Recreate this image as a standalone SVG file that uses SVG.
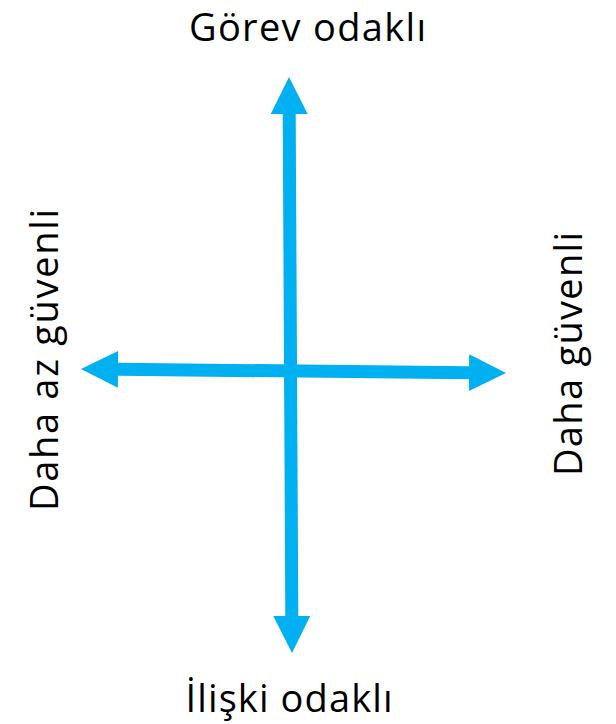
<svg xmlns="http://www.w3.org/2000/svg" width="616" height="724" viewBox="0 0 616 724">
  <style>
    .lbl { font-family: "Open Sans", "Liberation Sans", sans-serif; font-size: 38px; fill: #000000; text-anchor: middle; }
    .axis { stroke: #00B0F0; stroke-width: 13; fill: none; }
  </style>
  <defs>
    <marker id="head" markerUnits="userSpaceOnUse" markerWidth="38" markerHeight="40" viewBox="0 -20 38 40" refX="0" refY="0" orient="auto-start-reverse">
      <path d="M0,-18.5 L37,0 L0,18.5 Z" fill="#00B0F0"/>
    </marker>
  </defs>
  <rect width="616" height="724" fill="#ffffff"/>
  <g id="connectors">
    <line class="axis" x1="289.2" y1="114" x2="291.8" y2="616" marker-start="url(#head)" marker-end="url(#head)"/>
    <line class="axis" x1="118" y1="369.3" x2="469" y2="372.7" marker-start="url(#head)" marker-end="url(#head)"/>
  </g>
  <g id="node-top"><text class="lbl" x="307.5" y="41" textLength="237" lengthAdjust="spacing">Görev odaklı</text></g>
  <g id="node-bottom"><text class="lbl" x="289" y="712" textLength="207" lengthAdjust="spacing">İlişki odaklı</text></g>
  <g id="node-left"><text class="lbl" transform="translate(58,360) rotate(-90)" textLength="302" lengthAdjust="spacing">Daha az güvenli</text></g>
  <g id="node-right"><text class="lbl" transform="translate(582,354) rotate(-90)" textLength="244" lengthAdjust="spacing">Daha güvenli</text></g>
</svg>
